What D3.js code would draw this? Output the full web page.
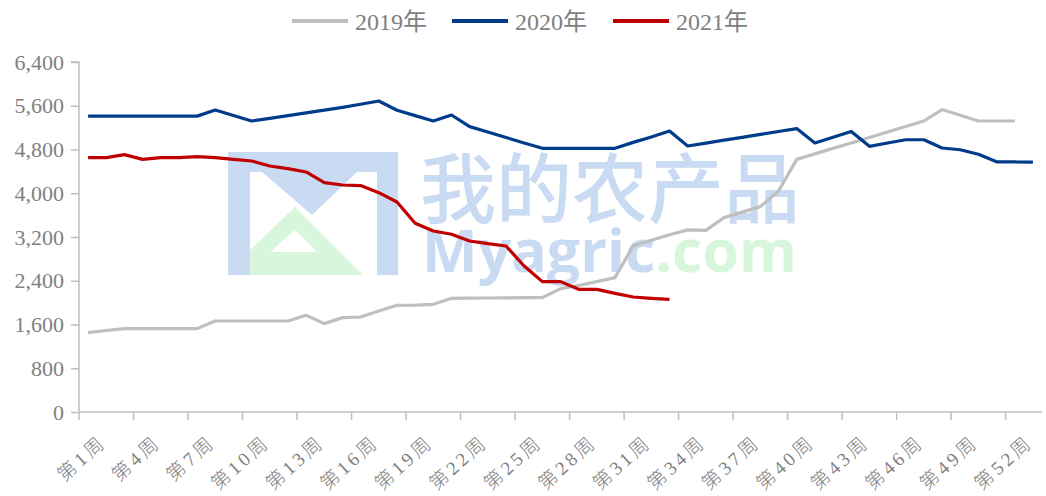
<!DOCTYPE html>
<html>
<head>
<meta charset="utf-8">
<script src="https://cdn.jsdelivr.net/npm/d3@7"></script>
<style>
  body { margin: 0; background: #fff; }
  svg { display: block; }
</style>
</head>
<body>
<div id="chart"></div>
<script>
// weekly values
var weeks = d3.range(1, 54);
var y2019 = [1452, 1490, 1525, 1525, 1525, 1525, 1525, 1664, 1664, 1664, 1664, 1664, 1768, 1616, 1726, 1737,
  1845, 1951, 1955, 1969, 2079, 2082, 2085, 2088, 2090, 2091, 2256, 2313, 2384, 2457, 3040, 3140, 3240, 3330,
  3322, 3554, 3655, 3755, 4041, 4620, 4720, 4820, 4920, 5020, 5120, 5220, 5321, 5530, 5425, 5321, 5321, 5321];
var y2020 = [5410, 5410, 5410, 5410, 5410, 5410, 5410, 5522, 5420, 5321, 5370, 5420, 5470, 5520, 5570, 5627,
  5687, 5517, 5420, 5321, 5431, 5218, 5120, 5020, 4920, 4822, 4822, 4822, 4822, 4822, 4930, 5030, 5138, 4864,
  4917, 4970, 5023, 5076, 5129, 5182, 4920, 5025, 5130, 4858, 4918, 4978, 4978, 4828, 4795, 4713, 4575, 4572, 4568];
var y2021 = [4652, 4652, 4706, 4620, 4652, 4652, 4670, 4650, 4620, 4590, 4499, 4450, 4389, 4195, 4151, 4140,
  4011, 3840, 3451, 3310, 3250, 3127, 3079, 3035, 2670, 2384, 2384, 2243, 2243, 2170, 2103, 2079, 2060];
var yTicks = [0, 800, 1600, 2400, 3200, 4000, 4800, 5600, 6400];
var labelWeeks = [1, 4, 7, 10, 13, 16, 19, 22, 25, 28, 31, 34, 37, 40, 43, 46, 49, 52];

var series = [
  {name: '2019年', values: y2019, color: '#bfbfbf'},
  {name: '2020年', values: y2020, color: '#003c8a'},
  {name: '2021年', values: y2021, color: '#c00000'}
];

var width = 1046, height = 496;
var margin = {left: 79, right: 4, top: 62, bottom: 84};

var svg = d3.select('#chart').append('svg')
    .attr('width', width)
    .attr('height', height);

var x = d3.scaleBand()
    .domain(weeks)
    .range([margin.left, width - margin.right])
    .padding(0);

var y = d3.scaleLinear()
    .domain([0, 6400])
    .range([height - margin.bottom, margin.top]);

var cx = function(w) { return x(w) + x.bandwidth() / 2; };

// watermark (behind everything)
var wm = svg.append('g').attr('class', 'watermark');
wm.append('path')
    .attr('d', 'M228,152 L398,152 L398,275 L377,275 L377,172 L357,172 L312,215 L262,172 L250,172 L250,275 L228,275 Z')
    .attr('fill', '#c9daf3');
wm.append('path')
    .attr('d', 'M250,250 L295,207 L363,275 L250,275 Z M270,252 L317,252 L295,230 Z')
    .attr('fill', '#d7f6dc')
    .attr('fill-rule', 'evenodd');
var wmText = wm.append('text')
    .style('font-weight', 700);
wmText.append('tspan')
    .attr('x', 420).attr('y', 217)
    .attr('textLength', 380).attr('lengthAdjust', 'spacingAndGlyphs')
    .style('font-family', '"Noto Sans CJK SC", sans-serif')
    .style('font-size', '76px')
    .style('font-weight', 500)
    .attr('fill', '#c9daf3')
    .text('我的农产品');
wmText.append('tspan')
    .attr('x', 422).attr('y', 272)
    .style('font-family', '"Open Sans", sans-serif')
    .style('font-size', '59px')
    .attr('fill', '#c9daf3')
    .text('Myagric');
wmText.append('tspan')
    .style('font-family', '"Open Sans", sans-serif')
    .style('font-size', '59px')
    .attr('fill', '#d7f6dc')
    .text('.com');

// y axis
var yAxis = d3.axisLeft(y)
    .tickValues(yTicks)
    .tickSize(8)
    .tickPadding(7)
    .tickFormat(d3.format(','));

var gy = svg.append('g')
    .attr('class', 'axis y-axis')
    .attr('transform', `translate(${margin.left}, 0)`)
    .call(yAxis);
gy.select('.domain').attr('d', `M-8,${y(6400)}H0V${y(0)}`);

// x axis
var gx = svg.append('g')
    .attr('class', 'axis x-axis')
    .attr('transform', `translate(0, ${y(0)})`);
gx.append('path')
    .attr('class', 'domain')
    .attr('d', `M${margin.left},0H${width - margin.right}`);
gx.selectAll('line.tick')
    .data(labelWeeks)
    .enter()
    .append('line')
    .attr('class', 'tick')
    .attr('x1', d => x(d)).attr('x2', d => x(d))
    .attr('y1', 0).attr('y2', 8);
gx.selectAll('text.tick-label')
    .data(labelWeeks)
    .enter()
    .append('text')
    .attr('class', 'tick-label')
    .attr('transform', d => `translate(${cx(d) + 10}, 21) rotate(-42)`)
    .attr('text-anchor', 'end')
    .attr('dy', '0.75em')
    .text(d => '第' + d + '周');

svg.selectAll('.axis path, .axis line')
    .attr('stroke', '#bfbfbf')
    .attr('stroke-width', 1.5)
    .attr('fill', 'none');
gy.selectAll('text')
    .attr('fill', '#808080')
    .style('font-family', '"Liberation Serif", "Times New Roman", serif')
    .style('font-size', '22px');
gx.selectAll('text')
    .attr('fill', '#808080')
    .style('font-family', '"Liberation Serif", "Noto Sans CJK SC", serif')
    .style('font-size', '19px')
    .style('font-weight', 300)
    .style('letter-spacing', '3.5px');

// lines
var line = d3.line()
    .x((d, i) => cx(weeks[i]))
    .y(d => y(d));

svg.append('g')
    .attr('class', 'data-lines')
    .selectAll('path.line')
    .data(series)
    .enter()
    .append('path')
    .attr('class', 'line')
    .attr('d', d => line(d.values))
    .attr('fill', 'none')
    .attr('stroke', d => d.color)
    .attr('stroke-width', 3.2)
    .attr('stroke-linejoin', 'round');

// legend
var legendX = [292, 452, 613];
var legend = svg.append('g')
    .attr('class', 'legend')
    .selectAll('g.legend-item')
    .data(series)
    .enter()
    .append('g')
    .attr('class', 'legend-item')
    .attr('transform', (d, i) => `translate(${legendX[i]}, 21)`);
legend.append('line')
    .attr('x1', 0).attr('x2', 56)
    .attr('stroke', d => d.color)
    .attr('stroke-width', 4);
legend.append('text')
    .attr('x', 63)
    .attr('y', 9)
    .attr('fill', '#7f7f7f')
    .style('font-family', '"Liberation Serif", "Noto Sans CJK SC", serif')
    .style('font-size', '24px')
    .text(d => d.name);
</script>
</body>
</html>
